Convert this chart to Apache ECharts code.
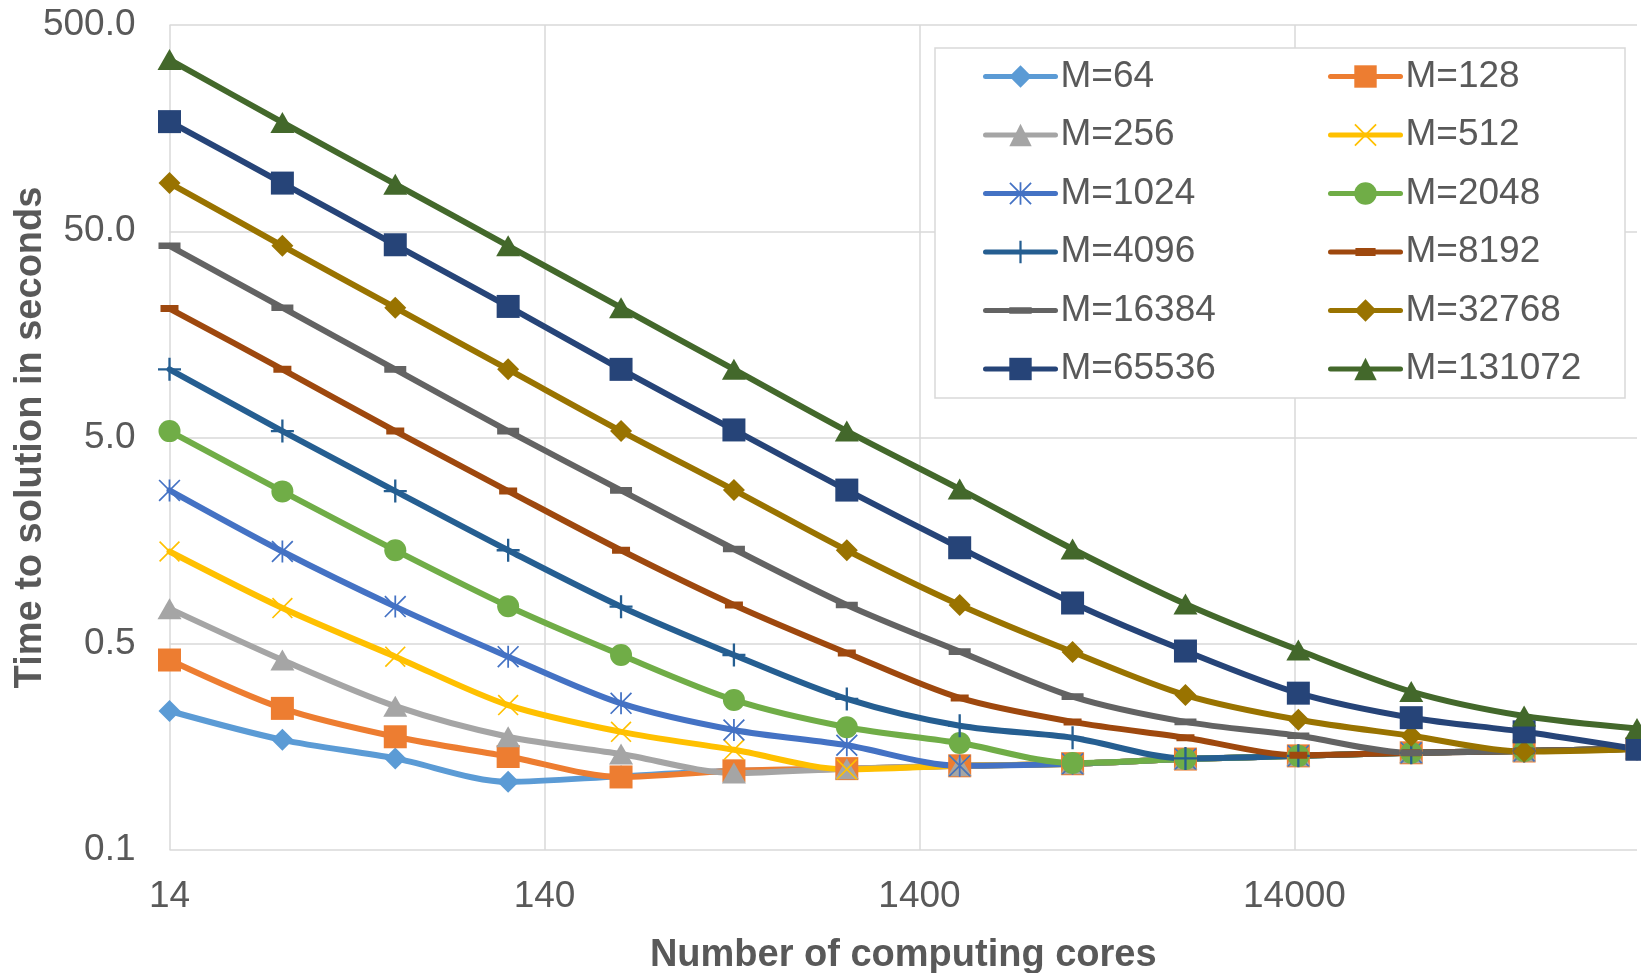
<!DOCTYPE html>
<html><head><meta charset="utf-8">
<script src="https://cdn.jsdelivr.net/npm/echarts@6/dist/echarts.min.js"></script>
<style>html,body{margin:0;padding:0;background:#fff}#c{width:1641px;height:973px}</style>
</head><body><div id="c"></div>
<script>
// ---- data ----
const cores = [14, 28, 56, 112, 224, 448, 896, 1792, 3584, 7168, 14336, 28672, 57344, 114688];
const xTickLabels = ['14', '140', '1400', '14000'];
const yTickLabels = ['0.1', '0.5', '5.0', '50.0', '500.0'];
const yMin = 0.05, yMax = 500;

const seriesNames = ['M=64','M=128','M=256','M=512','M=1024','M=2048','M=4096','M=8192','M=16384','M=32768','M=65536','M=131072'];
const m64     = [0.236, 0.171, 0.139, 0.107, 0.114, 0.121, 0.124, 0.128, 0.131, 0.138, 0.143, 0.148, 0.151, 0.155];
const m128    = [0.417, 0.243, 0.177, 0.142, 0.113, 0.121, 0.124, 0.128, 0.131, 0.138, 0.143, 0.148, 0.151, 0.155];
const m256    = [0.740, 0.417, 0.249, 0.177, 0.146, 0.118, 0.124, 0.128, 0.131, 0.138, 0.143, 0.148, 0.151, 0.155];
const m512    = [1.40, 0.745, 0.433, 0.252, 0.187, 0.153, 0.123, 0.128, 0.131, 0.138, 0.143, 0.148, 0.151, 0.155];
const m1024   = [2.77, 1.40, 0.757, 0.433, 0.257, 0.191, 0.161, 0.128, 0.131, 0.138, 0.143, 0.148, 0.151, 0.155];
const m2048   = [5.37, 2.74, 1.42, 0.76, 0.441, 0.267, 0.197, 0.165, 0.132, 0.138, 0.143, 0.148, 0.151, 0.155];
const m4096   = [10.7, 5.37, 2.75, 1.42, 0.756, 0.441, 0.270, 0.200, 0.175, 0.139, 0.143, 0.148, 0.151, 0.155];
const m8192   = [21.1, 10.7, 5.37, 2.75, 1.42, 0.771, 0.451, 0.273, 0.209, 0.175, 0.144, 0.148, 0.151, 0.155];
const m16384  = [42.5, 21.3, 10.7, 5.37, 2.77, 1.44, 0.771, 0.458, 0.277, 0.209, 0.179, 0.148, 0.151, 0.155];
const m32768  = [85.6, 42.5, 21.3, 10.7, 5.37, 2.78, 1.42, 0.771, 0.456, 0.282, 0.214, 0.179, 0.150, 0.154];
const m65536  = [170, 85.6, 43.0, 21.6, 10.7, 5.44, 2.78, 1.46, 0.788, 0.461, 0.288, 0.219, 0.187, 0.154];
const m131072 = [340, 168.5, 84.6, 42.5, 21.3, 10.7, 5.37, 2.81, 1.44, 0.779, 0.466, 0.293, 0.223, 0.194];

// ---- styles ----
const FONT = '"Liberation Sans", Arial, sans-serif';
const TXT = '#595959';
const GRIDC = '#D9D9D9';
const LINE_W = 6;
const P_X = 'path://M0,1.1L1.1,0L20,18.9L18.9,20Z M18.9,0L20,1.1L1.1,20L0,18.9Z';
const P_STAR = 'path://M0,1.1L1.1,0L20,18.9L18.9,20Z M18.9,0L20,1.1L1.1,20L0,18.9Z M9.2,0L10.8,0L10.8,20L9.2,20Z';
const P_PLUS = 'path://M9,0L11,0L11,20L9,20Z M0,9L20,9L20,11L0,11Z';
const P_DASH = 'path://M0,0L0.01,0L0,0.01Z M19.99,20L20,20L20,19.99Z M1,6.5L19,6.5L19,13.5L1,13.5Z';
const P_DASH2 = 'path://M0,0L0.01,0L0,0.01Z M19.99,20L20,20L20,19.99Z M0,7L20,7L20,13L0,13Z';

const styles = [
  {c:'#5B9BD5', s:'diamond', z:22},
  {c:'#ED7D31', s:'rect', z:23},
  {c:'#A5A5A5', s:'triangle', z:[24,21]},
  {c:'#FFC000', s:P_X, z:21},
  {c:'#4472C4', s:P_STAR, z:22},
  {c:'#70AD47', s:'circle', z:22},
  {c:'#255E91', s:P_PLUS, z:23},
  {c:'#9E480E', s:P_DASH, z:20},
  {c:'#636363', s:P_DASH2, z:22},
  {c:'#997300', s:'diamond', z:22},
  {c:'#264478', s:'rect', z:23},
  {c:'#43682B', s:'triangle', z:[24,21]}
];
const allValues = [m64,m128,m256,m512,m1024,m2048,m4096,m8192,m16384,m32768,m65536,m131072];

const series = allValues.map((vals, i) => ({
  name: seriesNames[i],
  type: 'line',
  xAxisIndex: 0, yAxisIndex: 0,
  smooth: 0.3,
  data: vals.map((v, k) => [cores[k], v]),
  symbol: styles[i].s,
  symbolSize: styles[i].z,
  showAllSymbol: true,
  color: styles[i].c,
  lineStyle: {color: styles[i].c, width: LINE_W, cap: 'round', join: 'round'},
  itemStyle: {color: styles[i].c},
  emphasis: {disabled: true}
}));

const xDecades = Math.log10(cores[cores.length - 1] / cores[0]);
const yDecades = Math.log10(yMax / yMin);

const legendCommon = {
  orient: 'vertical', top: 58, padding: 0, itemGap: 21.5,
  itemWidth: 70, itemHeight: 28, selectedMode: false,
  lineStyle: {width: 5, cap: 'round'},
  textStyle: {fontSize: 37, color: TXT, fontFamily: FONT}
};

const option = {
  animation: false,
  backgroundColor: '#fff',
  grid: {left: 169.5, right: 4, top: 25, bottom: 123, containLabel: false, outerBoundsMode: 'none'},
  xAxis: [
    {type: 'log', logBase: 10, min: cores[0], max: cores[cores.length - 1], show: false},
    {type: 'value', min: 0, max: xDecades, interval: 1, position: 'bottom',
     axisLine: {show: false}, axisTick: {show: false, customValues: [0,1,2,3]},
     splitLine: {show: true, lineStyle: {color: GRIDC, width: 1.5}},
     axisLabel: {customValues: [0,1,2,3], margin: 28, fontSize: 37, color: TXT, fontFamily: FONT,
       formatter: v => { const i = Math.round(v); return Math.abs(v - i) < 1e-6 && xTickLabels[i] ? xTickLabels[i] : ''; }},
     name: 'Number of computing cores', nameLocation: 'middle', nameGap: 87, nameMoveOverlap: false,
     nameTextStyle: {fontSize: 38, fontWeight: 'bold', color: TXT, fontFamily: FONT}}
  ],
  yAxis: [
    {type: 'log', logBase: 10, min: yMin, max: yMax, show: false},
    {type: 'value', min: 0, max: yDecades, interval: 1, position: 'left',
     axisLine: {show: false}, axisTick: {show: false},
     splitLine: {show: true, lineStyle: {color: GRIDC, width: 1.5}},
     axisLabel: {margin: 34, fontSize: 37, color: TXT, fontFamily: FONT,
       formatter: v => { const i = Math.round(v); return Math.abs(v - i) < 1e-6 && yTickLabels[i] ? yTickLabels[i] : ''; }},
     name: 'Time to solution in seconds', nameLocation: 'middle', nameGap: 120, nameMoveOverlap: false,
     nameTextStyle: {fontSize: 38, fontWeight: 'bold', color: TXT, fontFamily: FONT}}
  ],
  legend: [
    Object.assign({}, legendCommon, {left: 983, data: seriesNames.filter((n, i) => i % 2 === 0)}),
    Object.assign({}, legendCommon, {left: 1328, data: seriesNames.filter((n, i) => i % 2 === 1)})
  ],
  graphic: [{
    type: 'rect', z: 3,
    shape: {x: 935, y: 48, width: 690, height: 350},
    style: {fill: '#fff', stroke: GRIDC, lineWidth: 1.5}
  }],
  series: series
};

const chart = echarts.init(document.getElementById('c'), null, {renderer: 'canvas'});
chart.setOption(option);
</script>
</body></html>
